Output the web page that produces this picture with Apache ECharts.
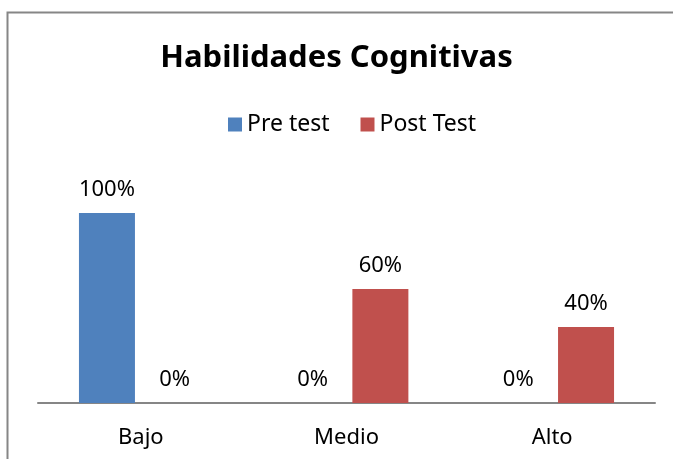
<!DOCTYPE html>
<html>
<head>
<meta charset="utf-8">
<script src="https://cdn.jsdelivr.net/npm/echarts@6/dist/echarts.min.js"></script>
<style>
html,body{margin:0;padding:0;background:#fff;}
#c{width:673px;height:459px;}
</style>
</head>
<body>
<div id="c"></div>
<script>
var titleText = 'Habilidades Cognitivas';
var categories = ['Bajo', 'Medio', 'Alto'];
var seriesNames = ['Pre test', 'Post Test'];
var preTest = [100, 0, 0];
var postTest = [0, 60, 40];

var FONT = 'Noto Sans';
var chart = echarts.init(document.getElementById('c'), null, {renderer: 'canvas'});
var labelCfg = {
  show: true, position: 'top', distance: 12,
  formatter: '{c}%', color: '#000', fontFamily: FONT, fontSize: 22
};
chart.setOption({
  animation: false,
  backgroundColor: '#fff',
  title: {
    text: titleText, left: 'center', top: 38,
    textStyle: {fontFamily: FONT, fontWeight: 'bold', fontSize: 31, color: '#000'}
  },
  legend: {
    data: seriesNames, top: 108, left: 223,
    itemWidth: 14, itemHeight: 14, itemGap: 31,
    icon: 'rect',
    textStyle: {fontFamily: FONT, fontSize: 23, color: '#000'}
  },
  grid: {left: 38, right: 18, top: 213, bottom: 56, containLabel: false},
  xAxis: {
    type: 'category', data: categories,
    axisLine: {lineStyle: {color: '#868686', width: 2}},
    axisTick: {show: false},
    axisLabel: {fontFamily: FONT, fontSize: 22, color: '#000', margin: 24}
  },
  yAxis: {
    type: 'value', min: 0, max: 100,
    show: false, splitLine: {show: false}
  },
  series: [
    {name: seriesNames[0], type: 'bar', data: preTest, barWidth: 56, barGap: '21%',
     itemStyle: {color: '#4F81BD'}, label: labelCfg},
    {name: seriesNames[1], type: 'bar', data: postTest, barWidth: 56,
     itemStyle: {color: '#C0504D'}, label: labelCfg}
  ],
  graphic: [{
    type: 'polyline', silent: true,
    shape: {points: [[7.5, 459], [7.5, 12.5], [673, 12.5]]},
    style: {stroke: '#868686', lineWidth: 2, fill: null}
  }]
});
</script>
</body>
</html>
